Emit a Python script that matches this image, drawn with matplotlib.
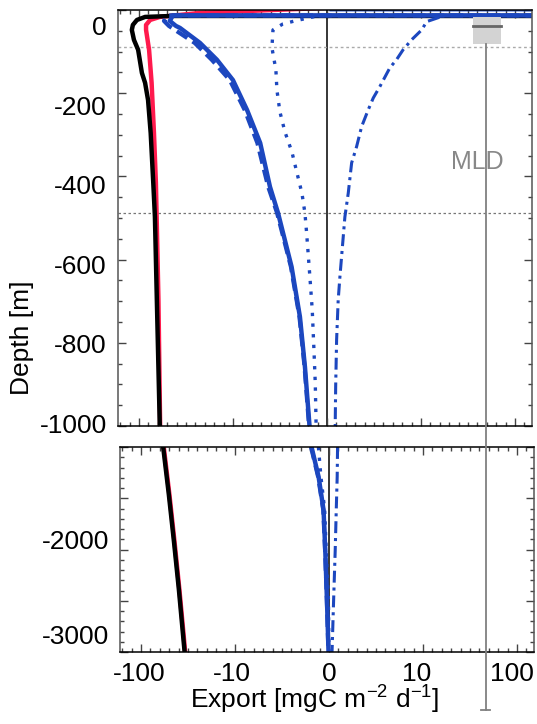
import numpy as np
import matplotlib.pyplot as plt
from matplotlib.transforms import ScaledTranslation

plt.rcParams['font.family'] = ['Liberation Sans', 'DejaVu Sans']
plt.rcParams['mathtext.default'] = 'regular'

# export profiles, upper panel (depth [m], export [mgC m-2 d-1])
red_depth = [50, 42.7, 37.7, 27.6, 20, 7.5, -5, -55, -138, -264, -389, -475, -683, -1000]
red_exp = [-0.5, -8.2, -22.4, -60, -76, -84, -84, -78, -73.3, -69.2, -66, -64.8, -62, -59.5]

black_depth = [30, 30, 27.6, 20, 7.5, -5, -30, -55, -113, -138, -181, -264, -389, -475, -683, -1000]
black_exp = [1000, -45, -86, -105, -116, -119, -113, -102, -93, -86, -80, -75, -70.4, -67.6, -64.5, -60]

solid_depth = [47, 47, 31.4, 31.4, 17.6, 5, 0, -37.7, -80, -131, -206, -289, -399, -465, -600, -726, -851, -1000]
solid_exp = [0.5, 1000, 1000, -43.5, -47, -40.4, -36.6, -22.4, -14.8, -10.0, -8.5, -7.1, -6.06, -5.2, -3.76, -2.87, -2.34, -1.85]

dashed_depth = [31.4, 31.4, 17.6, 5, 0, -37.7, -80, -131, -206, -289, -399, -465, -600, -726, -851, -1000]
dashed_exp = [1000, -50, -54.2, -48, -44.6, -25.5, -16.8, -10.8, -8.75, -7.4, -6.25, -5.3, -3.83, -2.92, -2.38, -1.9]

dotted_depth = [31.4, 31.4, 27.6, 17.6, 10, -5, -50, -105, -156, -211, -261, -312, -364, -415, -465, -515, -626, -709, -809, -892, -1000]
dotted_exp = [1000, -0.8, -1.49, -3.4, -4.68, -5.74, -5.85, -5.43, -5.32, -5.0, -4.47, -3.72, -3.19, -2.66, -2.34, -2.16, -1.81, -1.56, -1.38, -1.24, -1.15]

dashdot_depth = [31.4, 31.4, 15.8, -5, -30, -55, -80, -100, -147, -176, -206, -248, -298, -339, -415, -475, -626, -683, -784, -902, -1000]
dashdot_exp = [1000, 18, 11.5, 10.2, 9.0, 8.1, 7.4, 6.7, 5.64, 4.93, 4.39, 3.69, 3.16, 2.63, 2.27, 1.91, 1.38, 1.2, 1.03, 0.93, 0.88]

# lower panel
deep_depth = [-1000, -1500, -2000, -2500, -3000, -3200]
black_deep = [-58, -50.5, -44.5, -39.5, -35.5, -34]
red_deep = [-57.2, -49.8, -43.9, -39, -35, -33.6]

blue_deep_depth = [-1000, -1313, -1664, -2085, -2612, -3200]
solid_deep = [-1.85, -1.10, -0.57, -0.39, -0.21, -0.03]
dashed_deep = [-1.9, -1.15, -0.6, -0.41, -0.22, -0.04]
dotted_deep = [-1.12, -0.85, -0.45, -0.29, -0.05, 0.0]
dashdot_deep = [0.92, 0.88, 0.78, 0.67, 0.5, 0.32]

# mixed layer depth box
mld_x = 49
mld_box_x = [35.5, 71]
mld_box_depth = [-41.5, 27.6]
mld_median = 5
mld_min = -1714

xticks = [-100, -10, 0, 10, 100]
xticklabels = ['-100', '-10', '0', '10', '100']
label_shift = [-1.5, -3, 0, -6, -5]   # px, labels sit a bit off their ticks in the original
top_labels = [0, -200, -400, -600, -800, -1000]
deep_labels = [-2000, -3000]

red = '#ff1a4d'
blue = '#1c47bf'
fs = 19

def from_t(t):
    t = np.asarray(t)
    return np.where(np.abs(t) <= 1, 10 * t, np.sign(t) * 10 ** np.abs(t))

fig = plt.figure(figsize=(5.37, 7.24), dpi=100)
ax1 = fig.add_axes([118/537, 1-426/724, 414/537, 416/724])
ax2 = fig.add_axes([120/537, 1-652/724, 414/537, 205/724])
ax1.set_zorder(3)

minor_x = from_t(np.arange(-2.2, 2.2, 0.1))

for ax in (ax1, ax2):
    ax.set_xscale('symlog', linthresh=10, linscale=0.9)
    ax.set_xlim(-167, 152)
    ax.set_xticks(xticks)
    ax.set_xticks(minor_x, minor=True)
    ax.tick_params(which='both', direction='in', top=True, right=True, width=1, colors='#444444')
    ax.tick_params(which='major', length=6)
    ax.tick_params(which='minor', length=3)
    ax.axvline(0, color='k', lw=1.1, zorder=1)
    for s in ax.spines.values():
        s.set_linewidth(1.1)
    ax.spines['left'].set_color('#555555')
    ax.spines['right'].set_color('#555555')
    ax.set_yticklabels([])

ax1.set_xticklabels([])
ax2.set_xticklabels(xticklabels, fontsize=fs)
ax2.tick_params(axis='x', which='major', labelcolor='k', pad=7)
for lab, dx in zip(ax2.get_xticklabels(), label_shift):
    lab.set_transform(lab.get_transform() + ScaledTranslation(dx / 100, 0, fig.dpi_scale_trans))

# upper panel
ax1.set_ylim(-1000, 45)
ax1.set_yticks(np.linspace(45, -1000, 6))
ax1.set_yticks(np.linspace(45, -1000, 21), minor=True)
ax1.set_yticklabels([])
for d in top_labels:
    ax1.text(-0.027, d, str(d), transform=ax1.get_yaxis_transform(), ha='right', va='center', fontsize=fs)

ax1.axhline(-48, color='#aaaaaa', lw=1, ls=(0, (2, 2)), zorder=1)
ax1.axhline(-465, color='#777777', lw=0.9, ls=(0, (2, 2)), zorder=1)

ax1.plot(red_exp, red_depth, color=red, lw=3.2)
ax1.plot(black_exp, black_depth, color='k', lw=3.2)
ax1.plot(dashdot_exp, dashdot_depth, color=blue, lw=2.2, ls=(0, (3.9, 1.6, 1, 1.6)))
ax1.plot(dotted_exp, dotted_depth, color=blue, lw=2.4, ls=(0, (1, 2.2)))
ax1.plot(dashed_exp, dashed_depth, color=blue, lw=3.0, ls=(0, (3, 1.5)))
ax1.plot(solid_exp, solid_depth, color=blue, lw=3.2)

ax1.fill_between(mld_box_x, mld_box_depth[0], mld_box_depth[1], color='#d3d3d3', lw=0, zorder=2)
ax1.plot(mld_box_x, [mld_median, mld_median], color='#666666', lw=2, zorder=3)
ax1.plot([mld_x, mld_x], [mld_box_depth[0], mld_min], color='#808080', lw=1.3, clip_on=False, zorder=3)
ax1.plot([43.5, 54.2], [mld_min, mld_min], color='#808080', lw=1.3, clip_on=False, zorder=3)
ax1.text(39.4, -337, 'MLD', color='#888888', fontsize=18, ha='center', va='center')

# lower panel
ax2.set_ylim(-3160, -1000)
ax2.set_yticks(np.linspace(-1000, -3160, 5))
ax2.set_yticks(np.linspace(-1000, -3160, 21), minor=True)
ax2.set_yticklabels([])
for d in deep_labels:
    ax2.text(-0.027, d, str(d), transform=ax2.get_yaxis_transform(), ha='right', va='center', fontsize=fs)

ax2.plot(red_deep, deep_depth, color=red, lw=3.2)
ax2.plot(black_deep, deep_depth, color='k', lw=3.2)
ax2.plot(dashdot_deep, blue_deep_depth, color=blue, lw=2.2, ls=(0, (3.9, 1.6, 1, 1.6)))
ax2.plot(dotted_deep, blue_deep_depth, color=blue, lw=2.4, ls=(0, (1, 2.2)))
ax2.plot(dashed_deep, blue_deep_depth, color=blue, lw=3.0, ls=(0, (3, 1.5)))
ax2.plot(solid_deep, blue_deep_depth, color=blue, lw=3.2)

fig.text(22/537, 1-338/724, 'Depth [m]', rotation=90, ha='center', va='center', fontsize=fs)
fig.text(315/537, 1-700/724, 'Export [mgC m$^{-2}$ d$^{-1}$]', ha='center', va='center', fontsize=fs)

fig.savefig('out.png', dpi=100)
